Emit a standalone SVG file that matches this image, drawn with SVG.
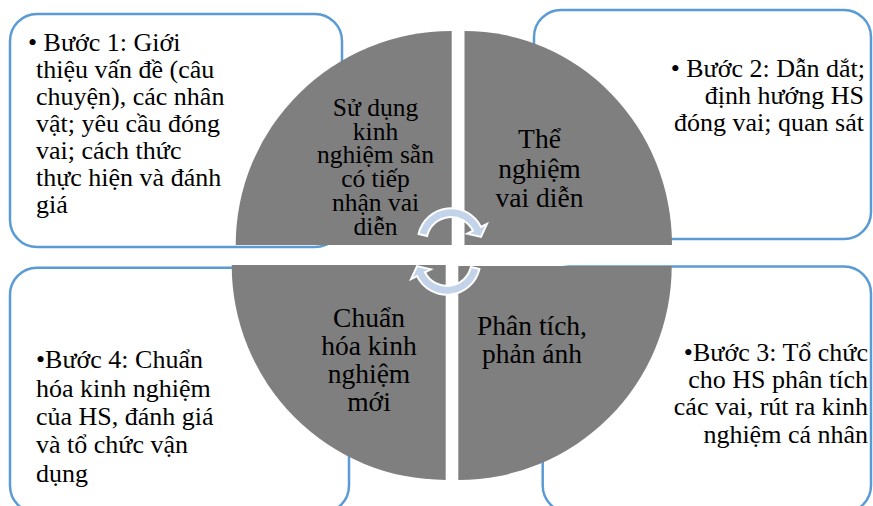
<svg xmlns="http://www.w3.org/2000/svg" width="873" height="506" viewBox="0 0 873 506">
<style>
.box{fill:#ffffff;stroke:#5b9bd5;stroke-width:2.5}
.quad{fill:#7f7f7f}
.t{font-family:"Liberation Serif","Times New Roman",serif;font-size:26px;fill:#000}
.c{font-family:"Liberation Serif","Times New Roman",serif;font-size:27.5px;fill:#000;text-anchor:middle}
.c1{font-family:"Liberation Serif","Times New Roman",serif;font-size:25.5px;fill:#000;text-anchor:middle}
.e{text-anchor:end}
.arr{fill:#c3d4ea;stroke:#ffffff;stroke-width:2;stroke-linejoin:miter}
</style>
<defs>
<path id="circArrow" d="M 418.55 234.0 A 33.3 33.3 0 0 1 480.93 226.9 L 486.95 223.96 L 481.0 236.9 L 467.18 233.61 L 473.02 230.76 A 24.5 24.5 0 0 0 427.13 235.99 Z"/>
</defs>
<rect width="873" height="506" fill="#ffffff"/>

<g id="box1">
<rect class="box" x="10" y="14" width="332" height="233" rx="27"/>
<text class="t" x="28" y="51">• Bước 1: Giới</text>
<text class="t" x="36" y="78">thiệu vấn đề (câu</text>
<text class="t" x="36" y="105">chuyện), các nhân</text>
<text class="t" x="36" y="132">vật; yêu cầu đóng</text>
<text class="t" x="36" y="159">vai; cách thức</text>
<text class="t" x="36" y="186">thực hiện và đánh</text>
<text class="t" x="36" y="213">giá</text>
</g>

<g id="box2">
<rect class="box" x="534" y="10" width="337" height="229" rx="27"/>
<text class="t e" x="865" y="77">• Bước 2: Dẫn dắt;</text>
<text class="t e" x="864" y="104">định hướng HS</text>
<text class="t e" x="864" y="131">đóng vai; quan sát</text>
</g>

<g id="box3">
<rect class="box" x="542.7" y="266.5" width="328.3" height="246" rx="27"/>
<text class="t e" x="868" y="361">•Bước 3: Tổ chức</text>
<text class="t e" x="868" y="388">cho HS phân tích</text>
<text class="t e" x="868" y="415">các vai, rút ra kinh</text>
<text class="t e" x="868" y="443">nghiệm cá nhân</text>
</g>

<g id="box4">
<rect class="box" x="10" y="267.7" width="339" height="245" rx="27"/>
<text class="t" x="36" y="368">•Bước 4: Chuẩn</text>
<text class="t" x="36" y="396.5">hóa kinh nghiệm</text>
<text class="t" x="36" y="425">của HS, đánh giá</text>
<text class="t" x="36" y="453">và tổ chức vận</text>
<text class="t" x="36" y="482">dụng</text>
</g>

<g id="quadrant1">
<path class="quad" d="M 451.7 245 L 235.7 245 A 216 214 0 0 1 451.7 31 Z"/>
<text class="c1" x="375.5" y="116">Sử dụng</text>
<text class="c1" x="375.5" y="139.5">kinh</text>
<text class="c1" x="375.5" y="163">nghiệm sẵn</text>
<text class="c1" x="375.5" y="187">có tiếp</text>
<text class="c1" x="375.5" y="211">nhận vai</text>
<text class="c1" x="375.5" y="235">diễn</text>
</g>

<g id="quadrant2">
<path class="quad" d="M 464.5 245 L 464.5 31 A 207.5 214 0 0 1 672 245 Z"/>
<text class="c" x="539.5" y="148.3">Thể</text>
<text class="c" x="539.5" y="177.8">nghiệm</text>
<text class="c" x="539.5" y="206.7">vai diễn</text>
</g>

<g id="quadrant3">
<path class="quad" d="M 458.3 266 L 671.7 266 A 213.4 214 0 0 1 458.3 480 Z"/>
<text class="c" x="532" y="335">Phân tích,</text>
<text class="c" x="532" y="363.3">phản ánh</text>
</g>

<g id="quadrant4">
<path class="quad" d="M 445.7 265 L 445.7 480 A 214 215 0 0 1 231.7 265 Z"/>
<text class="c" x="369" y="327">Chuẩn</text>
<text class="c" x="369" y="355">hóa kinh</text>
<text class="c" x="369" y="383.3">nghiệm</text>
<text class="c" x="369" y="411">mới</text>
</g>

<g id="connectors">
<use href="#circArrow" class="arr"/>
<use href="#circArrow" class="arr" transform="rotate(180 449 251.5)"/>
</g>
</svg>
